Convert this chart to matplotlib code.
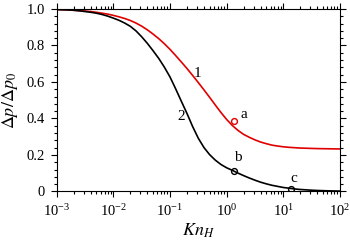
import numpy as np
import matplotlib
matplotlib.use("Agg")
import matplotlib.pyplot as plt
from matplotlib.ticker import LogLocator, LogFormatterMathtext, MultipleLocator, FixedLocator, NullFormatter

plt.rcParams['font.family'] = ['Liberation Serif', 'DejaVu Serif']
plt.rcParams['mathtext.fontset'] = 'stix'

# sampled abscissa: log10(Kn_H)
logkn = [-3.0, -2.9, -2.8, -2.7, -2.6, -2.5, -2.4, -2.3, -2.2, -2.1,
         -2.0, -1.9, -1.8, -1.7, -1.6, -1.5, -1.4, -1.3, -1.2, -1.1,
         -1.0, -0.9, -0.8, -0.7, -0.6, -0.5, -0.4, -0.3, -0.2, -0.1,
         0.0, 0.1, 0.2, 0.3, 0.4, 0.5, 0.6, 0.7, 0.8, 0.9,
         1.0, 1.1, 1.2, 1.3, 1.4, 1.5, 1.6, 1.7, 1.8, 1.9, 2.0]

# Curve 1 (red)
val_1 = [0.997, 0.996, 0.995, 0.993, 0.991, 0.989, 0.986, 0.982, 0.977, 0.972,
         0.965, 0.957, 0.948, 0.937, 0.923, 0.906, 0.886, 0.863, 0.838, 0.810,
         0.779, 0.745, 0.710, 0.674, 0.636, 0.597, 0.557, 0.516, 0.474, 0.433,
         0.395, 0.362, 0.335, 0.313, 0.297, 0.283, 0.271, 0.262, 0.254, 0.249,
         0.245, 0.242, 0.240, 0.238, 0.237, 0.236, 0.235, 0.2345, 0.234, 0.2335, 0.233]

# Curve 2 (black)
val_2 = [0.997, 0.996, 0.995, 0.993, 0.990, 0.986, 0.982, 0.977, 0.970, 0.961,
         0.950, 0.938, 0.923, 0.905, 0.880, 0.848, 0.812, 0.772, 0.730, 0.682,
         0.628, 0.563, 0.495, 0.428, 0.356, 0.292, 0.241, 0.202, 0.172, 0.148,
         0.130, 0.116, 0.101, 0.087, 0.074, 0.062, 0.051, 0.042, 0.034, 0.028,
         0.022, 0.018, 0.014, 0.011, 0.009, 0.007, 0.0055, 0.0045, 0.0035, 0.0028, 0.0022]

# marked points
pt_labels = ['a', 'b', 'c']
pt_kn = [1.35, 1.36, 13.5]
pt_val = [0.386, 0.114, 0.016]
pt_colors = ['#e00000', 'black', 'black']

fig = plt.figure(figsize=(3.5, 2.43), dpi=100)
ax = fig.add_axes([0.162, 0.212, 0.809, 0.751])

kn = [10 ** v for v in logkn]
ax.plot(kn, val_1, color='#e00000', lw=1.2)
ax.plot(kn, val_2, color='black', lw=1.2)
for k, v, c in zip(pt_kn, pt_val, pt_colors):
    ax.plot(k, v, 'o', ms=4.2, mfc='none', mec=c, mew=1.0)

ax.set_xscale('log')
ax.set_xlim(1e-3, 1e2)
ax.set_ylim(0, 1.0)

ax.xaxis.set_major_locator(LogLocator(base=10, numticks=10))
ax.xaxis.set_minor_locator(LogLocator(base=10, subs=np.arange(2, 10), numticks=20))
ax.xaxis.set_major_formatter(LogFormatterMathtext())
ax.xaxis.set_minor_formatter(NullFormatter())
ax.yaxis.set_major_locator(FixedLocator([0, 0.2, 0.4, 0.6, 0.8, 1.0]))
ax.yaxis.set_minor_locator(MultipleLocator(0.04))
ax.set_yticklabels(['0', '0.2', '0.4', '0.6', '0.8', '1.0'])

ax.tick_params(which='both', direction='out', top=True, right=True,
               labelsize=10.5, width=0.8)
ax.tick_params(which='major', length=4.5, pad=4)
ax.tick_params(which='minor', length=2.5)
for s in ax.spines.values():
    s.set_linewidth(0.8)

ax.set_xlabel(r'$Kn_H$', fontsize=13, labelpad=2)
ax.set_ylabel(r'$\Delta p/\Delta p_0$', fontsize=13, labelpad=5)

# curve labels
ax.text(10 ** -0.51, 0.648, '1', fontsize=11, ha='center', va='center')
ax.text(10 ** -0.81, 0.41, '2', fontsize=11, ha='center', va='center')
lab_pos = [(10 ** 0.31, 0.42), (10 ** 0.19, 0.187), (10 ** 1.19, 0.072)]
for lab, (x, y) in zip(pt_labels, lab_pos):
    ax.text(x, y, lab, fontsize=11, ha='center', va='center')

fig.savefig('out.png', dpi=100)
